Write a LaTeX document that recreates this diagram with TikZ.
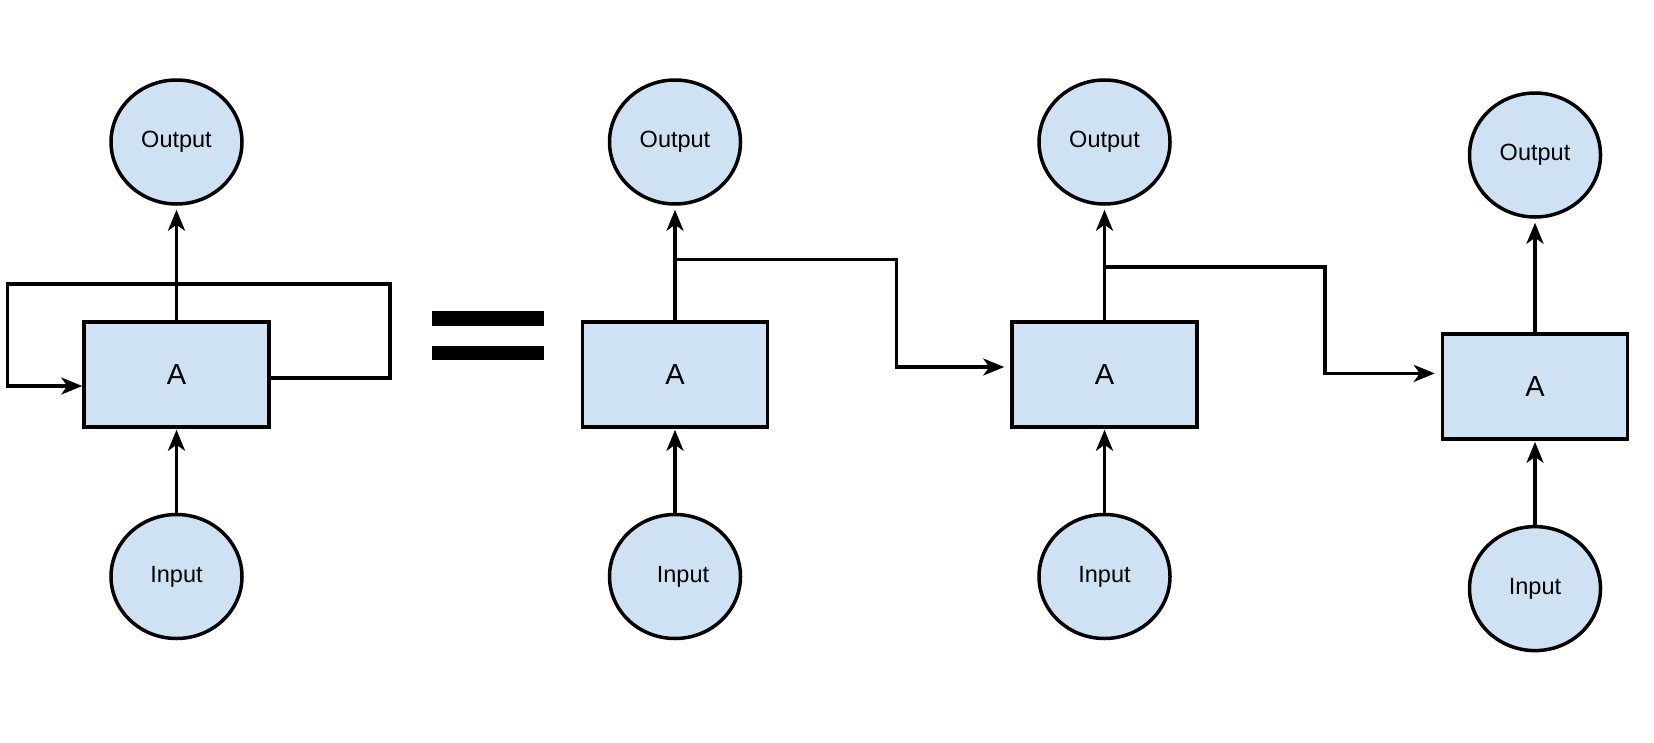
\documentclass[tikz,border=0pt]{standalone}
\usepackage{fontspec}
\setmainfont{Liberation Sans}
\usetikzlibrary{arrows.meta,shapes.geometric}
\definecolor{cellblue}{HTML}{CFE2F3}
\begin{document}
\begin{tikzpicture}[x=1pt,y=-1pt,
  line width=3.5pt,
  tip/.style={-{Stealth[length=21pt,width=17pt,inset=6pt]}},
  io/.style={ellipse,draw,fill=cellblue,minimum width=131pt,minimum height=124pt,inner sep=0pt,font=\fontsize{23.5}{27}\selectfont},
  cell/.style={rectangle,draw,fill=cellblue,minimum width=185pt,minimum height=105pt,inner sep=0pt,font=\fontsize{29}{34}\selectfont},
  wire/.style={line width=3.5pt,line join=miter}]
\useasboundingbox (0,0) rectangle (1654,742);

% left folded cell
\node[io] (oL) at (176.5,142) {Output};
\node[cell] (aL) at (176.5,374.5) {A};
\node[io] (iL) at (176.5,576.5) {Input};
\draw[tip,shorten >=4pt] (aL.north) -- (oL.south);
\draw[tip,shorten >=1pt] (iL.north) -- (aL.south);
\draw[wire,tip] (aL.east |- 0,378) -| (390,284) -| (7.4,386) -- (aL.west |- 0,386);

% equals sign
\fill (432,311) rectangle (544,326);
\fill (432,346) rectangle (544,360);

% unrolled cell 1
\node[io] (o1) at (675,142) {Output};
\node[cell] (a1) at (675,374.5) {A};
\node[io] (i1) at (675,576.5) {\hspace*{16pt}Input};
\draw[tip,shorten >=4pt] (a1.north) -- (o1.south);
\draw[tip,shorten >=1pt] (i1.north) -- (a1.south);

% unrolled cell 2
\node[io] (o2) at (1104.5,142) {Output};
\node[cell] (a2) at (1104.5,374.5) {A};
\node[io] (i2) at (1104.5,576.5) {Input};
\draw[tip,shorten >=4pt] (a2.north) -- (o2.south);
\draw[tip,shorten >=1pt] (i2.north) -- (a2.south);

% unrolled cell 3
\node[io] (o3) at (1535,155) {Output};
\node[cell] (a3) at (1535,386.6) {A};
\node[io] (i3) at (1535,588.6) {Input};
\draw[tip,shorten >=4pt] (a3.north) -- (o3.south);
\draw[tip,shorten >=1pt] (i3.north) -- (a3.south);

% recurrent links
\coordinate (b1) at (675,259.5);
\coordinate (b2) at (1104.5,267);
\draw[wire,tip,shorten >=6pt] (b1) -| (896.7,367) -- (a2.west |- 0,367);
\draw[wire,tip,shorten >=6pt] (b2) -| (1325,373.4) -- (a3.west |- 0,373.4);
\end{tikzpicture}
\end{document}
